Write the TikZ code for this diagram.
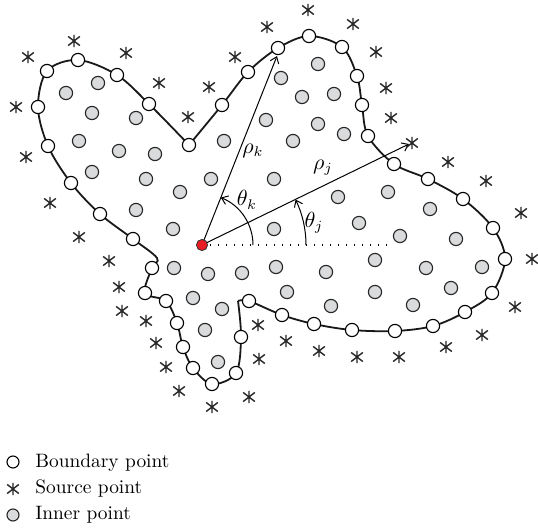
\documentclass[tikz,border=0pt]{standalone}
\usetikzlibrary{arrows.meta}
\definecolor{innergray}{RGB}{218,219,221}
\definecolor{dotred}{RGB}{232,30,36}
\tikzset{
  bpt/.style={circle,draw=black,fill=white,line width=0.55pt,minimum size=6.6pt,inner sep=0pt},
  ipt/.style={circle,draw=black!85,fill=innergray,line width=0.55pt,minimum size=6.6pt,inner sep=0pt},
  srcstar/.pic={\draw[line width=0.7pt,black!85] (0,3.1pt)--(0,-3.1pt) (38:3.7pt)--(218:3.7pt) (142:3.7pt)--(322:3.7pt);},
  bline/.style={line width=0.9pt,black!90},
  vec/.style={line width=0.5pt,-{Straight Barb[length=3pt,width=4.5pt]}},
  lbl/.style={inner sep=0pt,font=\fontsize{10.5}{12}\selectfont},
  legtxt/.style={anchor=mid west,inner sep=0pt,font=\fontsize{9.7}{12}\selectfont}
}
\begin{document}
\begin{tikzpicture}[x=0.5pt,y=-0.5pt]
\useasboundingbox (0,0) rectangle (538,531);
% boundary curve
\draw[bline] plot[smooth,tension=0.55] coordinates {(189,145) (222,105) (248,72) (278,48) (309,36) (342,47) (357,76) (362,105) (368,136) (394,164) (428,179) (463,199) (493,228) (505,259) (492,293) (465,312) (433,326) (395,331) (352,330) (314,324) (282,315) (249,301) (238,301)};
\draw[bline] plot[smooth,tension=0.55] coordinates {(238,301) (241,337) (236,373) (212,384) (193,368) (183,347) (177,323) (166,301) (145,293) (152,268) (157,258) (133,239) (100,214) (71,183) (48,146) (38,107) (47,71) (78,60) (117,75) (149,104) (189,145)};
% origin and vectors
\coordinate (ak) at (277,56);
\coordinate (aj) at (409,144);
\coordinate (dend) at (388,245);
\coordinate (tk) at (253,245);
\coordinate (tj) at (306,245);
\draw[line width=0.55pt,dash pattern=on 0.55pt off 3.45pt] (202,245) -- (dend);
\draw[vec] (202,245) -- (ak);
\draw[vec] (202,245) -- (aj);
\draw[vec] (tk) arc[start angle=0,end angle=-68.4,radius=51];
\draw[vec] (tj) arc[start angle=0,end angle=-25.9,radius=104];
\node[lbl] (rk) at (253,151) {$\rho_k$};
\node[lbl] (rj) at (323,168) {$\rho_j$};
\node[lbl] (thk) at (247,200) {$\theta_k$};
\node[lbl] (thj) at (314,223) {$\theta_j$};
% inner points
\foreach \p [count=\i] in {(66,93),(98,83),(92,113),(136,118),(79,141),(119,151),(155,154),(92,172),(146,179),(211,179),(180,192),(136,210),(173,229),(224,141),(266,120),(281,78),(318,64),(302,97),(334,94),(318,124),(344,134),(293,141),(274,179),(274,229),(338,197),(388,192),(359,223),(400,236),(430,209),(456,239),(375,260),(242,273),(276,267),(326,272),(426,268),(482,267),(287,292),(375,292),(451,288),(331,306),(413,305),(174,268),(208,274),(193,298),(222,309),(205,330),(218,362)}
  \node[ipt] (i\i) at \p {};
% boundary points
\foreach \p [count=\i] in {(38,107),(47,71),(78,60),(117,75),(149,104),(189,145),(222,105),(248,72),(278,48),(309,36),(342,47),(357,76),(362,105),(368,136),(394,164),(428,179),(463,199),(493,228),(505,259),(492,293),(465,312),(433,326),(395,331),(352,330),(314,324),(282,315),(249,301),(241,337),(236,373),(212,384),(193,368),(183,347),(177,323),(166,301),(145,293),(152,268),(133,239),(100,214),(71,183),(48,146)}
  \node[bpt] (b\i) at \p {};
% source points
\foreach \p [count=\i] in {(28,57),(74,41),(126,53),(159,83),(209,87),(235,57),(267,27),(188,117),(16,107),(26,157),(50,203),(79,237),(308,10),(353,24),(376,52),(386,88),(391,118),(412,143),(448,162),(486,181),(521,213),(532,259),(515,307),(482,335),(446,347),(399,357),(357,357),(319,351),(286,341),(258,325),(259,359),(249,397),(109,261),(119,287),(122,311),(146,321),(156,343),(166,367),(179,391),(212,407)}
  \path \p coordinate (s\i) pic {srcstar};
% origin
\node[circle,draw=black!80,fill=dotred,line width=0.4pt,minimum size=5.6pt,inner sep=0pt] (o) at (202,245) {};
% legend
\node[bpt,minimum size=6pt] (lb) at (13,462) {};
\node[legtxt] (lbt) at (35,463) {Boundary point};
\path (13,489) coordinate (ls) pic {srcstar};
\node[legtxt] (lst) at (35,489) {Source point};
\node[ipt,minimum size=6pt] (li) at (13,515) {};
\node[legtxt] (lit) at (35,515) {Inner point};
\end{tikzpicture}
\end{document}
